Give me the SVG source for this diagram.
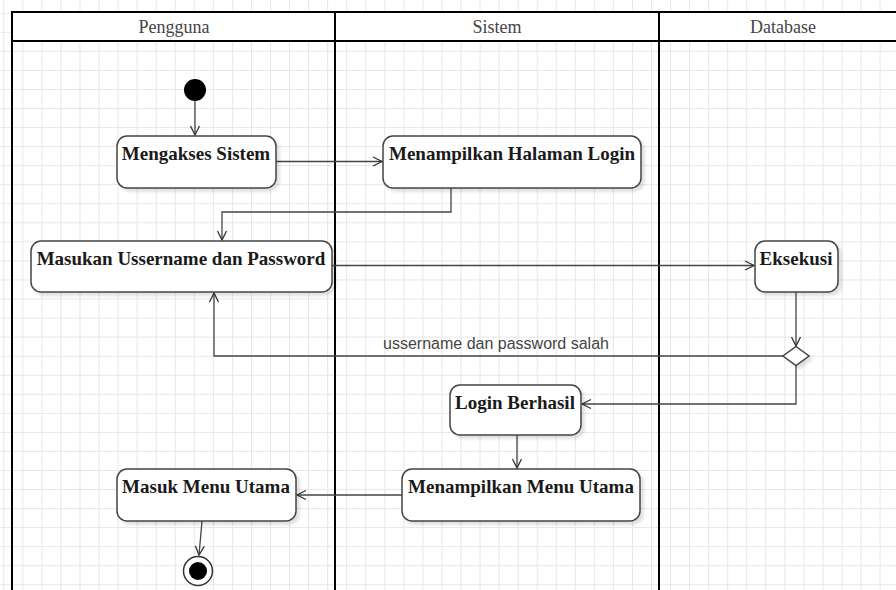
<svg xmlns="http://www.w3.org/2000/svg" width="896" height="590" viewBox="0 0 896 590">
  <defs>
    <pattern id="grid" patternUnits="userSpaceOnUse" x="3.3" y="12.8" width="19.05" height="19.05">
      <path d="M0.5 0 V19.05 M0 0.5 H19.05" fill="none" stroke="#e6e6e6" stroke-width="1"/>
    </pattern>
    <filter id="sh" x="-10%" y="-10%" width="130%" height="140%">
      <feDropShadow dx="3" dy="3" stdDeviation="1.5" flood-color="#000" flood-opacity="0.12"/>
    </filter>
    <marker id="arr" markerWidth="12" markerHeight="12" refX="10" refY="6" orient="auto" markerUnits="userSpaceOnUse">
      <path d="M1 1.5 L10 6 L1 10.5" fill="none" stroke="#333" stroke-width="1.3"/>
    </marker>
    <style>
      .lane { fill: none; stroke: #000; stroke-width: 2; }
      .hdr { font-family: "Liberation Serif", serif; font-size: 18px; fill: #444; text-anchor: middle; }
      .node rect { fill: #fff; stroke: #444; stroke-width: 1.5; filter: url(#sh); }
      .node text { font-family: "Liberation Serif", serif; font-weight: bold; font-size: 19px; fill: #1a1a1a; text-anchor: middle; }
      .edge { fill: none; stroke: #444; stroke-width: 1.3; marker-end: url(#arr); }
      .lbl { font-family: "Liberation Sans", Arial, sans-serif; font-size: 16px; fill: #444; text-anchor: middle; }
    </style>
  </defs>

  <rect x="0" y="0" width="896" height="590" fill="#fff"/>
  <rect x="0" y="0" width="896" height="590" fill="url(#grid)"/>

  <g id="swimlanes">
    <rect x="12" y="12" width="330" height="30" fill="#fff"/>
    <rect x="335" y="12" width="324" height="30" fill="#fff"/>
    <rect x="659" y="12" width="250" height="30" fill="#fff"/>
    <path class="lane" d="M12 600 V12 H910 M12 41 H910 M335 12 V600 M659 12 V600"/>
    <text class="hdr" x="174" y="33">Pengguna</text>
    <text class="hdr" x="497" y="33">Sistem</text>
    <text class="hdr" x="783" y="33">Database</text>
  </g>

  <g id="connectors">
    <path class="edge" d="M195 101 V135"/>
    <path class="edge" d="M276 161.5 H382"/>
    <path class="edge" d="M451 188 V212 H222 V240"/>
    <path class="edge" d="M332 265.5 H754"/>
    <path class="edge" d="M796 292 V346"/>
    <path class="edge" d="M783 356 H214 V293"/>
    <path class="edge" d="M796 365.5 V404 H582"/>
    <path class="edge" d="M517 435 V468"/>
    <path class="edge" d="M402 495 H297"/>
    <path class="edge" d="M202 521 L199 555"/>
    <text class="lbl" x="496" y="349">ussername dan password salah</text>
  </g>

  <g id="start">
    <circle cx="195" cy="90" r="11" fill="#000"/>
  </g>

  <g id="mengakses" class="node">
    <rect x="117" y="136" width="159" height="52" rx="10"/>
    <text x="196" y="160">Mengakses Sistem</text>
  </g>

  <g id="halaman-login" class="node">
    <rect x="383" y="136" width="258" height="52" rx="10"/>
    <text x="512" y="160">Menampilkan Halaman Login</text>
  </g>

  <g id="masukan" class="node">
    <rect x="31" y="241" width="301" height="51" rx="10"/>
    <text x="181" y="265">Masukan Ussername dan Password</text>
  </g>

  <g id="eksekusi" class="node">
    <rect x="755" y="241" width="83" height="51" rx="10"/>
    <text x="796" y="265">Eksekusi</text>
  </g>

  <g id="decision">
    <polygon points="796,346.5 809,356 796,365.5 783,356" fill="#fff" stroke="#444" stroke-width="1.5" filter="url(#sh)"/>
  </g>

  <g id="login-berhasil" class="node">
    <rect x="450" y="385" width="131" height="50" rx="10"/>
    <text x="515" y="409">Login Berhasil</text>
  </g>

  <g id="menu-utama-sistem" class="node">
    <rect x="402" y="469" width="238" height="52" rx="10"/>
    <text x="521" y="493">Menampilkan Menu Utama</text>
  </g>

  <g id="masuk-menu" class="node">
    <rect x="117" y="469" width="179" height="52" rx="10"/>
    <text x="206" y="493">Masuk Menu Utama</text>
  </g>

  <g id="end">
    <circle cx="198" cy="571" r="14.5" fill="#fff" stroke="#333" stroke-width="1.5"/>
    <circle cx="198" cy="571" r="9" fill="#000"/>
  </g>
</svg>
